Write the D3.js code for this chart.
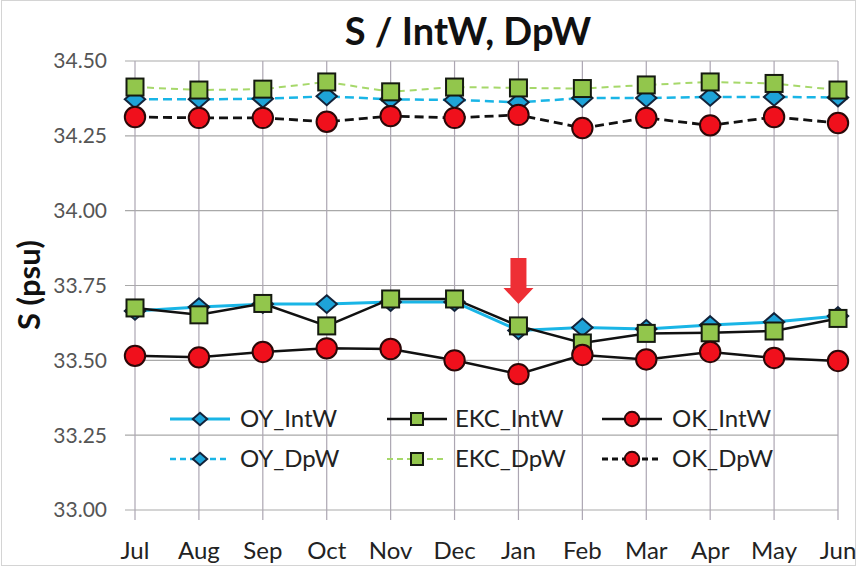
<!DOCTYPE html>
<html>
<head>
<meta charset="utf-8">
<script src="https://cdn.jsdelivr.net/npm/d3@7"></script>
<style>
  html, body { margin: 0; padding: 0; background: #fff; }
  svg { display: block; font-family: Lato, "Open Sans", sans-serif; }
</style>
</head>
<body>
<svg id="chart" width="857" height="566"></svg>
<script>
const months = ["Jul", "Aug", "Sep", "Oct", "Nov", "Dec", "Jan", "Feb", "Mar", "Apr", "May", "Jun"];
const yTicks = [33.0, 33.25, 33.5, 33.75, 34.0, 34.25, 34.5];

const oyIntW = [33.665, 33.678, 33.688, 33.688, 33.695, 33.695, 33.600, 33.610, 33.605, 33.618, 33.628, 33.648];
const ekcIntW = [33.675, 33.652, 33.690, 33.615, 33.705, 33.705, 33.615, 33.558, 33.590, 33.592, 33.598, 33.640];
const okIntW = [33.515, 33.510, 33.528, 33.540, 33.538, 33.500, 33.454, 33.518, 33.503, 33.528, 33.508, 33.498];
const oyDpW = [34.372, 34.372, 34.374, 34.382, 34.372, 34.370, 34.362, 34.376, 34.376, 34.380, 34.380, 34.378];
const ekcDpW = [34.413, 34.403, 34.406, 34.430, 34.397, 34.413, 34.410, 34.408, 34.420, 34.430, 34.425, 34.403];
const okDpW = [34.313, 34.310, 34.310, 34.297, 34.316, 34.310, 34.320, 34.276, 34.310, 34.285, 34.313, 34.293];

const arrowMonth = "Jan";

// series in Excel drawing order
const series = [
  { name: "OY_IntW", values: oyIntW, line: "#19b5e6", width: 3, dash: null, marker: "diamond", fill: "#1ea3d8", row: 0, col: 0 },
  { name: "EKC_IntW", values: ekcIntW, line: "#111", width: 2.5, dash: null, marker: "square", fill: "#92c64c", row: 0, col: 1 },
  { name: "OK_IntW", values: okIntW, line: "#111", width: 2.5, dash: null, marker: "circle", fill: "#f0101c", row: 0, col: 2 },
  { name: "OY_DpW", values: oyDpW, line: "#19b5e6", width: 2.5, dash: "9,5", marker: "diamond", fill: "#1ea3d8", row: 1, col: 0 },
  { name: "EKC_DpW", values: ekcDpW, line: "#a6d86a", width: 2, dash: "7,5", marker: "square", fill: "#92c64c", row: 1, col: 1 },
  { name: "OK_DpW", values: okDpW, line: "#111", width: 2.8, dash: "9,5", marker: "circle", fill: "#f0101c", row: 1, col: 2 },
];

const margin = { top: 61, right: 19, bottom: 56, left: 135 };
const width = 857;
const height = 566;

const svg = d3.select("#chart");

const x = d3.scalePoint()
  .domain(months)
  .range([margin.left, width - margin.right]);

const y = d3.scaleLinear()
  .domain([33, 34.5])
  .range([height - margin.bottom, margin.top]);

// chart border
svg.append("rect")
  .attr("x", 1.5).attr("y", 0.5)
  .attr("width", width - 3).attr("height", height - 1)
  .attr("fill", "none")
  .attr("stroke", "#d4d4d4");

/**
 * Grid
 */
const gridG = svg.append("g").attr("class", "grid");
gridG.selectAll(".hgrid")
  .data(yTicks)
  .join("line")
  .attr("x1", margin.left - 10)
  .attr("x2", width - margin.right)
  .attr("y1", (d) => y(d))
  .attr("y2", (d) => y(d))
  .attr("stroke", "#a9a9a9")
  .attr("stroke-width", 1.2);
gridG.selectAll(".vgrid")
  .data(months)
  .join("line")
  .attr("x1", (d) => x(d))
  .attr("x2", (d) => x(d))
  .attr("y1", margin.top)
  .attr("y2", height - margin.bottom + 10)
  .attr("stroke", "#aca6b2")
  .attr("stroke-width", 1.2);

// y tick labels
svg.append("g")
  .selectAll("text")
  .data(yTicks)
  .join("text")
  .attr("x", margin.left - 28)
  .attr("y", (d) => y(d))
  .attr("dy", "0.35em")
  .attr("text-anchor", "end")
  .attr("font-size", 21)
  .attr("fill", "#555")
  .text((d) => d3.format(".2f")(d));

// x tick labels
svg.append("g")
  .selectAll("text")
  .data(months)
  .join("text")
  .attr("x", (d) => x(d))
  .attr("y", height - 7)
  .attr("text-anchor", "middle")
  .attr("font-size", 24)
  .attr("fill", "#222")
  .text((d) => d);

// title
svg.append("text")
  .attr("x", 468)
  .attr("y", 45)
  .attr("text-anchor", "middle")
  .attr("font-size", 38)
  .attr("font-weight", "bold")
  .attr("fill", "#111")
  .text("S / IntW, DpW");

// y axis title
svg.append("text")
  .attr("transform", `translate(40,285) rotate(-90)`)
  .attr("text-anchor", "middle")
  .attr("font-size", 31)
  .attr("font-weight", "bold")
  .attr("fill", "#111")
  .text("S (psu)");

/**
 * Markers
 */
function drawMarker(g, type, fill, size) {
  if (type === "diamond") {
    const w = size * 0.6, h = size * 0.52;
    g.append("path")
      .attr("d", `M0,${-h}L${w},0L0,${h}L${-w},0Z`)
      .attr("fill", fill)
      .attr("stroke", "#13233a")
      .attr("stroke-width", 2);
  } else if (type === "square") {
    const s = size * 0.5;
    g.append("rect")
      .attr("x", -s).attr("y", -s)
      .attr("width", 2 * s).attr("height", 2 * s)
      .attr("fill", fill)
      .attr("stroke", "#151a10")
      .attr("stroke-width", 2);
  } else {
    g.append("circle")
      .attr("r", size * 0.6)
      .attr("fill", fill)
      .attr("stroke", "#2a0808")
      .attr("stroke-width", 2);
  }
}

const line = d3.line()
  .x((d, i) => x(months[i]))
  .y((d) => y(d));

series.forEach((s) => {
  const g = svg.append("g").attr("class", "series");
  g.append("path")
    .attr("d", line(s.values))
    .attr("fill", "none")
    .attr("stroke", s.line)
    .attr("stroke-width", s.width)
    .attr("stroke-dasharray", s.dash);
  g.selectAll(".pt")
    .data(s.values)
    .join("g")
    .attr("class", "pt")
    .attr("transform", (d, i) => `translate(${x(months[i])},${y(d)})`)
    .each(function () {
      drawMarker(d3.select(this), s.marker, s.fill, 17);
    });
});

/**
 * Arrow
 */
const ai = months.indexOf(arrowMonth);
const ax = x(arrowMonth);
const tipY = y(ekcIntW[ai]) - 22;
svg.append("path")
  .attr("d", `M${ax - 8},${tipY - 46}L${ax + 8},${tipY - 46}L${ax + 8},${tipY - 16}L${ax + 15},${tipY - 16}L${ax},${tipY}L${ax - 15},${tipY - 16}L${ax - 8},${tipY - 16}Z`)
  .attr("fill", "#ee2f35");

/**
 * Legend
 */
const legendCols = [170, 387, 602];
const legendRows = [419, 459];
const legendG = svg.append("g").attr("class", "legend");
series.forEach((s) => {
  const lx = legendCols[s.col];
  const ly = legendRows[s.row];
  const g = legendG.append("g").attr("transform", `translate(${lx},${ly})`);
  g.append("line")
    .attr("x1", 0).attr("x2", 60)
    .attr("stroke", s.line)
    .attr("stroke-width", s.width)
    .attr("stroke-dasharray", s.dash ? "6,4" : null);
  const m = g.append("g").attr("transform", "translate(30,0)");
  drawMarker(m, s.marker, s.fill, 12);
  g.append("text")
    .attr("x", s.col === 1 ? 68 : 70)
    .attr("dy", "0.35em")
    .attr("font-size", 24)
    .attr("fill", "#222")
    .text(s.name);
});
</script>
</body>
</html>
